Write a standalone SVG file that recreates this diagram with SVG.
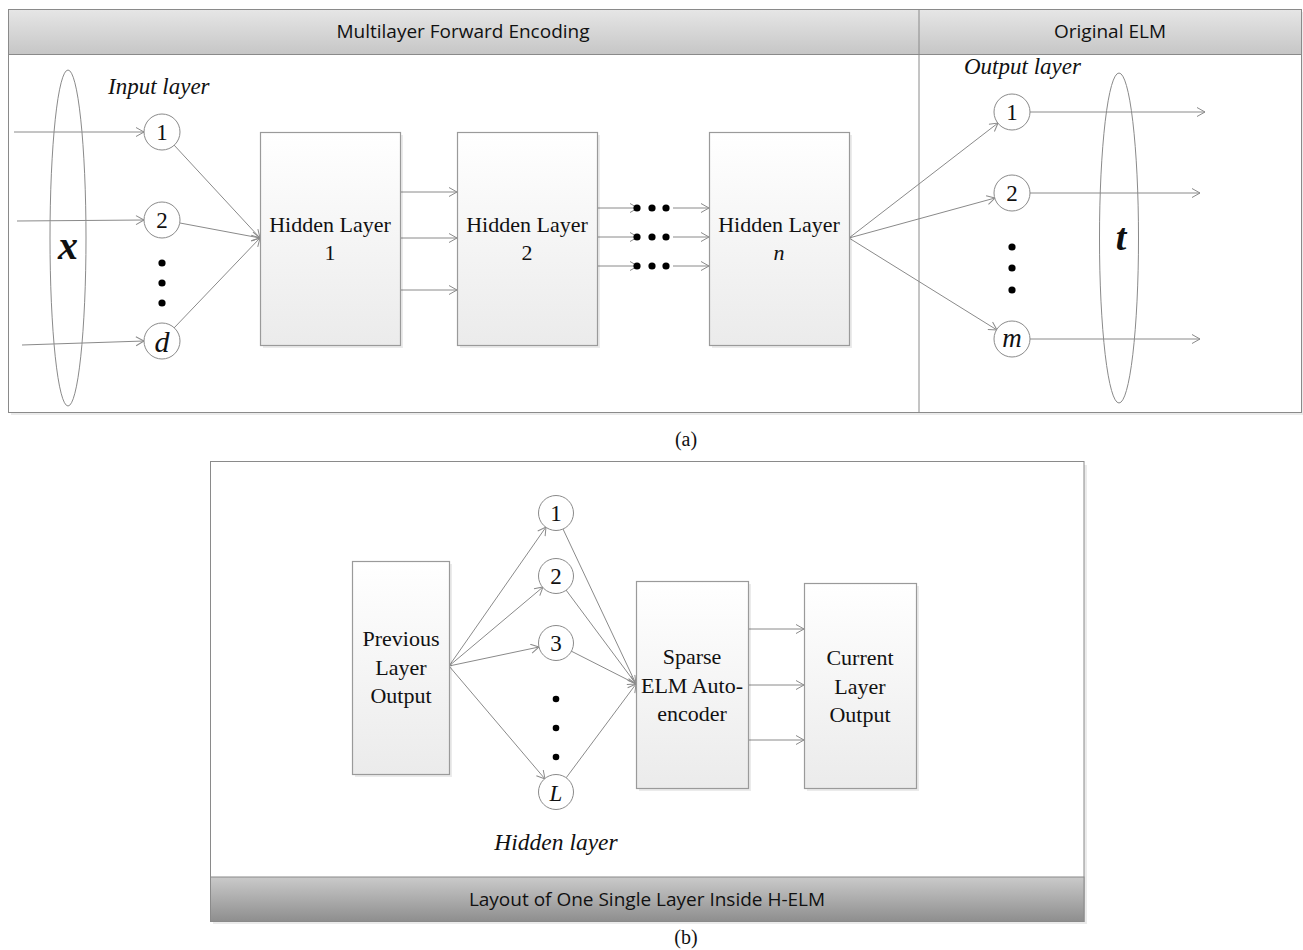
<svg xmlns="http://www.w3.org/2000/svg" width="1303" height="950" viewBox="0 0 1303 950">
<style>
.ser{font-family:"Liberation Serif","Times New Roman",serif;fill:#111}
.box{font-size:22px;text-anchor:middle}
.num{font-size:23px;text-anchor:middle}
.it{font-style:italic}
.hdr{font-family:"Open Sans","Liberation Sans",sans-serif;font-size:19px;fill:#111;text-anchor:middle}
.ln{stroke:#8a8a8a;stroke-width:1;fill:none}
.arr{marker-end:url(#ah)}
.node{fill:url(#bg);stroke:#9a9a9a;stroke-width:1.2}
.shadow{fill:#000;opacity:0.08}
.circ{fill:#fff;stroke:#8a8a8a;stroke-width:1}
.dot{fill:#000}
</style>
<defs>
<marker id="ah" markerUnits="userSpaceOnUse" markerWidth="12" markerHeight="12" refX="9" refY="5" orient="auto">
<path d="M1,0.5 L9,5 L1,9.5" fill="none" stroke="#8a8a8a" stroke-width="1"/>
</marker>
<linearGradient id="bg" x1="0" y1="0" x2="0" y2="1">
<stop offset="0" stop-color="#ffffff"/>
<stop offset="1" stop-color="#ebebeb"/>
</linearGradient>
<linearGradient id="hg" x1="0" y1="0" x2="0" y2="1">
<stop offset="0" stop-color="#e6e6e6"/>
<stop offset="1" stop-color="#c6c6c6"/>
</linearGradient>
<linearGradient id="fg" x1="0" y1="0" x2="0" y2="1">
<stop offset="0" stop-color="#cacaca"/>
<stop offset="1" stop-color="#8e8e8e"/>
</linearGradient>
</defs>

<g id="panel-a">
<rect x="11" y="12" width="1292" height="403" class="shadow"/>
<rect x="8.5" y="9.5" width="1293" height="403" fill="#fff" stroke="#8a8a8a" stroke-width="1"/>
<rect x="8.5" y="9.5" width="1293" height="45" fill="url(#hg)" stroke="#8a8a8a" stroke-width="1"/>
<line x1="919" y1="9.5" x2="919" y2="412.5" stroke="#8a8a8a" stroke-width="1"/>
<text class="hdr" x="463" y="38">Multilayer Forward Encoding</text>
<text class="hdr" x="1110" y="38">Original ELM</text>
</g>

<g id="panel-b">
<rect x="213" y="465" width="874" height="459" class="shadow"/>
<rect x="210.5" y="461.5" width="873.5" height="460" fill="#fff" stroke="#8a8a8a" stroke-width="1"/>
<rect x="210.5" y="877" width="873.5" height="44.5" fill="url(#fg)" stroke="#8a8a8a" stroke-width="1"/>
<text class="hdr" x="647" y="906">Layout of One Single Layer Inside H-ELM</text>
</g>

<g id="connectors">
<line class="ln arr" x1="14" y1="132" x2="144" y2="132"/>
<line class="ln arr" x1="17" y1="221" x2="144" y2="220"/>
<line class="ln arr" x1="22" y1="345" x2="144" y2="341"/>
<line class="ln arr" x1="174" y1="145" x2="260" y2="238"/>
<line class="ln arr" x1="180" y1="223" x2="260" y2="238"/>
<line class="ln arr" x1="174" y1="328" x2="260" y2="238"/>
<line class="ln arr" x1="400" y1="192" x2="457" y2="192"/>
<line class="ln arr" x1="400" y1="238" x2="457" y2="238"/>
<line class="ln arr" x1="400" y1="290" x2="457" y2="290"/>
<line class="ln arr" x1="597" y1="208" x2="638" y2="208"/>
<line class="ln arr" x1="597" y1="237" x2="638" y2="237"/>
<line class="ln arr" x1="597" y1="266" x2="638" y2="266"/>
<line class="ln arr" x1="673" y1="208" x2="709" y2="208"/>
<line class="ln arr" x1="673" y1="237" x2="709" y2="237"/>
<line class="ln arr" x1="673" y1="266" x2="709" y2="266"/>
<line class="ln arr" x1="849" y1="238" x2="998" y2="123"/>
<line class="ln arr" x1="849" y1="238" x2="995" y2="198"/>
<line class="ln arr" x1="849" y1="238" x2="997" y2="330"/>
<line class="ln arr" x1="1030" y1="112" x2="1205" y2="112"/>
<line class="ln arr" x1="1030" y1="193" x2="1200" y2="193"/>
<line class="ln arr" x1="1030" y1="339" x2="1200" y2="339"/>
<line class="ln arr" x1="449" y1="666" x2="546" y2="527"/>
<line class="ln arr" x1="449" y1="666" x2="543" y2="587"/>
<line class="ln arr" x1="449" y1="666" x2="539" y2="647"/>
<line class="ln arr" x1="449" y1="666" x2="545" y2="779"/>
<line class="ln arr" x1="563" y1="529" x2="636" y2="684"/>
<line class="ln arr" x1="566" y1="590" x2="636" y2="684"/>
<line class="ln arr" x1="571" y1="651" x2="636" y2="684"/>
<line class="ln arr" x1="566" y1="778" x2="636" y2="684"/>
<line class="ln arr" x1="748" y1="629" x2="804" y2="629"/>
<line class="ln arr" x1="748" y1="685" x2="804" y2="685"/>
<line class="ln arr" x1="748" y1="740" x2="804" y2="740"/>
</g>

<g id="x-vector">
<ellipse cx="68" cy="238" rx="18" ry="168" fill="none" stroke="#8a8a8a" stroke-width="1"/>
<text class="ser" x="68" y="259" style="font-size:40px;font-weight:bold;font-style:italic" text-anchor="middle">x</text>
</g>

<g id="input-layer">
<text class="ser it" x="108" y="94" style="font-size:23px">Input layer</text>
<circle class="circ" cx="162" cy="132" r="18"/>
<text class="ser num" x="162" y="140">1</text>
<circle class="circ" cx="162" cy="220" r="18"/>
<text class="ser num" x="162" y="228">2</text>
<circle class="dot" cx="162" cy="263" r="3.6"/>
<circle class="dot" cx="162" cy="283" r="3.6"/>
<circle class="dot" cx="162" cy="303" r="3.6"/>
<circle class="circ" cx="162" cy="341" r="18"/>
<text class="ser it" x="162" y="352" style="font-size:30px" text-anchor="middle">d</text>
</g>

<g id="hidden-layer-1">
<rect x="263" y="135" width="140" height="213" class="shadow"/>
<rect x="260.5" y="132.5" width="140" height="213" class="node"/>
<text class="ser box" x="330" y="232">Hidden Layer</text>
<text class="ser box" x="330" y="260">1</text>
</g>

<g id="hidden-layer-2">
<rect x="460" y="135" width="140" height="213" class="shadow"/>
<rect x="457.5" y="132.5" width="140" height="213" class="node"/>
<text class="ser box" x="527" y="232">Hidden Layer</text>
<text class="ser box" x="527" y="260">2</text>
</g>

<g id="ellipsis-dots">
<circle class="dot" cx="637" cy="208" r="3.6"/>
<circle class="dot" cx="652" cy="208" r="3.6"/>
<circle class="dot" cx="666" cy="208" r="3.6"/>
<circle class="dot" cx="637" cy="237" r="3.6"/>
<circle class="dot" cx="652" cy="237" r="3.6"/>
<circle class="dot" cx="666" cy="237" r="3.6"/>
<circle class="dot" cx="637" cy="266" r="3.6"/>
<circle class="dot" cx="652" cy="266" r="3.6"/>
<circle class="dot" cx="666" cy="266" r="3.6"/>
</g>

<g id="hidden-layer-n">
<rect x="712" y="135" width="140" height="213" class="shadow"/>
<rect x="709.5" y="132.5" width="140" height="213" class="node"/>
<text class="ser box" x="779" y="232">Hidden Layer</text>
<text class="ser box it" x="779" y="260">n</text>
</g>

<g id="output-layer">
<text class="ser it" x="964" y="74" style="font-size:23px">Output layer</text>
<circle class="circ" cx="1012" cy="112" r="18"/>
<text class="ser num" x="1012" y="120">1</text>
<circle class="circ" cx="1012" cy="193" r="18"/>
<text class="ser num" x="1012" y="201">2</text>
<circle class="dot" cx="1012" cy="247" r="3.6"/>
<circle class="dot" cx="1012" cy="268" r="3.6"/>
<circle class="dot" cx="1012" cy="290" r="3.6"/>
<circle class="circ" cx="1012" cy="339" r="18"/>
<text class="ser it" x="1012" y="347" style="font-size:27px" text-anchor="middle">m</text>
</g>

<g id="t-vector">
<ellipse cx="1119" cy="238" rx="19.5" ry="165" fill="none" stroke="#8a8a8a" stroke-width="1"/>
<text class="ser" x="1121" y="250" style="font-size:38px;font-weight:bold;font-style:italic" text-anchor="middle">t</text>
</g>

<text class="ser" x="686" y="446" style="font-size:20px" text-anchor="middle">(a)</text>

<g id="previous-layer-output">
<rect x="355" y="564" width="97" height="213" class="shadow"/>
<rect x="352.5" y="561.5" width="97" height="213" class="node"/>
<text class="ser box" x="401" y="646">Previous</text>
<text class="ser box" x="401" y="675">Layer</text>
<text class="ser box" x="401" y="703">Output</text>
</g>

<g id="hidden-nodes">
<circle class="circ" cx="556" cy="513" r="17.5"/>
<text class="ser num" x="556" y="521">1</text>
<circle class="circ" cx="556" cy="576" r="17.5"/>
<text class="ser num" x="556" y="584">2</text>
<circle class="circ" cx="556" cy="643" r="17.5"/>
<text class="ser num" x="556" y="651">3</text>
<circle class="dot" cx="556" cy="699" r="3.3"/>
<circle class="dot" cx="556" cy="728" r="3.3"/>
<circle class="dot" cx="556" cy="757" r="3.3"/>
<circle class="circ" cx="556" cy="792" r="17.5"/>
<text class="ser num it" x="556" y="801">L</text>
<text class="ser it" x="556" y="850" style="font-size:23.5px" text-anchor="middle">Hidden layer</text>
</g>

<g id="sparse-elm-autoencoder">
<rect x="639" y="584" width="112" height="207" class="shadow"/>
<rect x="636.5" y="581.5" width="112" height="207" class="node"/>
<text class="ser box" x="692" y="664">Sparse</text>
<text class="ser box" x="692" y="693">ELM Auto-</text>
<text class="ser box" x="692" y="721">encoder</text>
</g>

<g id="current-layer-output">
<rect x="807" y="586" width="112" height="205" class="shadow"/>
<rect x="804.5" y="583.5" width="112" height="205" class="node"/>
<text class="ser box" x="860" y="665">Current</text>
<text class="ser box" x="860" y="694">Layer</text>
<text class="ser box" x="860" y="722">Output</text>
</g>

<text class="ser" x="686" y="944" style="font-size:20px" text-anchor="middle">(b)</text>
</svg>
